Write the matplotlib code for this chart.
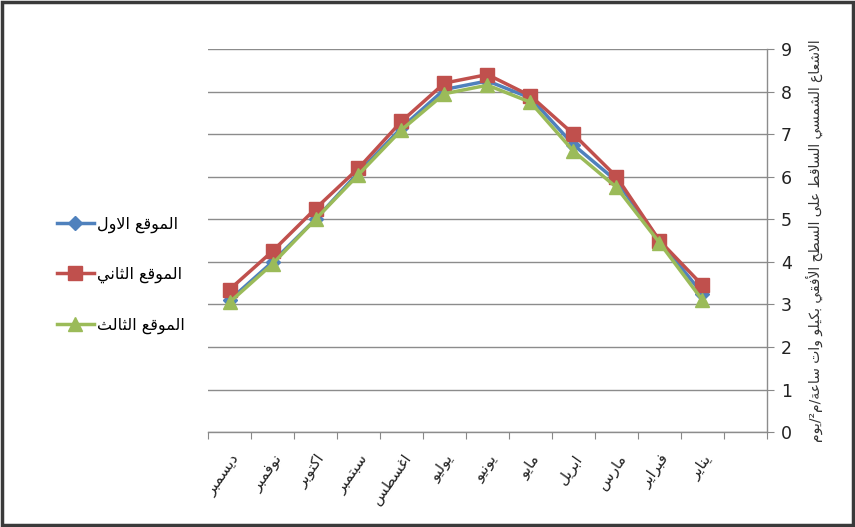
import matplotlib
matplotlib.use("Agg")
import matplotlib.pyplot as plt
from matplotlib.patches import Rectangle
import numpy as np

# --- data (months left to right as in the reference, one empty slot at the right)
months = ["ديسمبر", "نوفمبر", "اكتوبر", "سبتمبر", "اغسطس", "يوليو",
          "يونيو", "مايو", "ابريل", "مارس", "فبراير", "يناير"]
site1 = [3.1, 4.0, 5.0, 6.1, 7.15, 8.05, 8.25, 7.85, 6.75, 5.9, 4.5, 3.25]
site2 = [3.35, 4.25, 5.25, 6.2, 7.3, 8.2, 8.4, 7.9, 7.0, 6.0, 4.5, 3.45]
site3 = [3.05, 3.95, 5.0, 6.05, 7.1, 7.95, 8.15, 7.75, 6.6, 5.75, 4.45, 3.1]
series_names = ["الموقع الاول", "الموقع الثاني", "الموقع الثالث"]
ylabel_text = "الاشعاع الشمسي الساقط على السطح الأفقي بكيلو وات ساعة/م²/يوم"
n_slots = 13

# --- minimal Arabic shaping (presentation forms) + reversal for LTR rendering
# letter -> (isolated form codepoint, dual-joining?)
FORMS = {
    "ا": (0xFE8D, False), "أ": (0xFE83, False), "ب": (0xFE8F, True),
    "ة": (0xFE93, False), "ت": (0xFE95, True), "ث": (0xFE99, True),
    "ح": (0xFEA1, True), "د": (0xFEA9, False), "ر": (0xFEAD, False),
    "س": (0xFEB1, True), "ش": (0xFEB5, True), "ط": (0xFEC1, True),
    "ع": (0xFEC9, True), "غ": (0xFECD, True), "ف": (0xFED1, True),
    "ق": (0xFED5, True), "ك": (0xFED9, True), "ل": (0xFEDD, True),
    "م": (0xFEE1, True), "ن": (0xFEE5, True), "و": (0xFEED, False),
    "ى": (0xFEEF, False), "ي": (0xFEF1, True),
}
LAM_ALEF = {"ا": 0xFEFB, "أ": 0xFEF7}


def shape(text):
    # merge lam + alef into one token
    tokens = []
    i = 0
    while i < len(text):
        if text[i] == "ل" and i + 1 < len(text) and text[i + 1] in LAM_ALEF:
            tokens.append(("LA", LAM_ALEF[text[i + 1]]))
            i += 2
        else:
            tokens.append((text[i], None))
            i += 1

    def joins_fwd(tok):
        if tok[0] == "LA":
            return False
        return tok[0] in FORMS and FORMS[tok[0]][1]

    def is_ar(tok):
        return tok[0] == "LA" or tok[0] in FORMS

    out = []
    for k, tok in enumerate(tokens):
        prev = tokens[k - 1] if k > 0 else ("", None)
        nxt = tokens[k + 1] if k + 1 < len(tokens) else ("", None)
        jp = joins_fwd(prev)
        if tok[0] == "LA":
            out.append(chr(tok[1] + (1 if jp else 0)))
            continue
        if tok[0] not in FORMS:
            out.append(tok[0])
            continue
        base, dual = FORMS[tok[0]]
        jn = dual and is_ar(nxt)
        if jp and jn:
            out.append(chr(base + 3))
        elif jp:
            out.append(chr(base + 1))
        elif jn:
            out.append(chr(base + 2))
        else:
            out.append(chr(base))
    return "".join(out)[::-1]


plt.rcParams["font.family"] = ["DejaVu Sans"]

fig = plt.figure(figsize=(8.55, 5.27), dpi=100)
ax = fig.add_axes([0.2433, 0.180, 0.6537, 0.727])

x = np.arange(len(months)) + 0.5
ax.plot(x, site1, color="#4F81BD", lw=2.5, marker="D", ms=7,
        label=shape(series_names[0]), zorder=3)
ax.plot(x, site2, color="#C0504D", lw=2.5, marker="s", ms=10,
        label=shape(series_names[1]), zorder=4)
ax.plot(x, site3, color="#9BBB59", lw=2.5, marker="^", ms=10,
        label=shape(series_names[2]), zorder=5)

ax.set_xlim(0, n_slots)
ax.set_ylim(0, 9)
ax.set_yticks(range(0, 10))
ax.yaxis.tick_right()
ax.yaxis.set_label_position("right")
ax.tick_params(axis="y", direction="out", length=5, color="#888888",
               labelsize=12.5, pad=5, labelcolor="#222222")
ax.set_xticks(range(0, n_slots + 1))
ax.set_xticklabels([])
ax.set_xticks(x, minor=True)
ax.set_xticklabels([shape(m) for m in months], minor=True, rotation=55,
                   ha="right", rotation_mode="anchor", fontsize=11,
                   color="#222222")
ax.tick_params(axis="x", which="major", direction="out", length=5,
               color="#888888")
ax.tick_params(axis="x", which="minor", length=0, pad=14)

ax.grid(axis="y", color="#8c8c8c", lw=1)
ax.set_axisbelow(True)
for s in ["left", "top"]:
    ax.spines[s].set_visible(False)
for s in ["bottom", "right"]:
    ax.spines[s].set_color("#8c8c8c")
    ax.spines[s].set_linewidth(1)

ax.set_ylabel(shape(ylabel_text), rotation=90, fontsize=10, labelpad=10,
              color="#333333")

fig.legend(loc="center left", bbox_to_anchor=(0.05, 0.478), frameon=False,
           fontsize=11.5, labelspacing=2.15, handlelength=2.3,
           handletextpad=0.2)

# outer frame of the picture
fig.patches.append(Rectangle((0.002, 0.004), 0.996, 0.992,
                             transform=fig.transFigure, fill=False,
                             edgecolor="#3a3a3a", lw=2.5))

fig.savefig("out.png", dpi=100)
